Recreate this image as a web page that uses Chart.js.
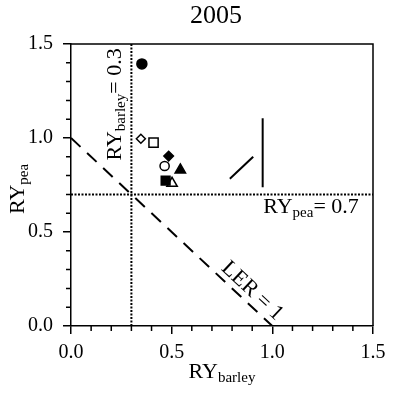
<!DOCTYPE html>
<html><head><meta charset="utf-8">
<script src="https://cdn.jsdelivr.net/npm/chart.js@4"></script>
<style>html,body{margin:0;padding:0;background:#fff}canvas{display:block}</style>
</head><body>
<canvas id="c" width="400" height="396"></canvas>
<script>
// ---- data ----
const chartTitle = '2005';
const treatments = ['T1','T2','T3','T4','T5','T6','T7','T8'];
const ryBarley = [0.352, 0.347, 0.410, 0.485, 0.465, 0.543, 0.502, 0.470];
const ryPea    = [1.394, 0.996, 0.975, 0.904, 0.851, 0.830, 0.759, 0.773];
const lsdDiagX = [0.789, 0.905];
const lsdDiagY = [0.783, 0.900];
const lsdVertX = [0.952, 0.952];
const lsdVertY = [0.738, 1.105];
const lerX = [0, 1];
const lerY = [1, 0];
const barleyThreshold = 0.3;
const peaThreshold = 0.7;
const axisMin = 0, axisMax = 1.5;
const tickValues = [0, 0.5, 1.0, 1.5];

// ---- styles ----
const SERIF = '"Liberation Serif", "Times New Roman", serif';
const markerStyle  = ['circle','rectRot','rect','rectRot','circle','triangle','triangle','rect'];
const markerFilled = [true, false, false, true, false, true, false, true];
const markerRadius = [5, 4.5, 6.5, 4.8, 4.6, 6, 6, 6.2];

const pts = (xs, ys) => xs.map((x, i) => ({x, y: ys[i]}));

function drawParts(ctx, x0, y0, angle, parts, align) {
  ctx.save();
  ctx.translate(x0, y0);
  ctx.rotate(angle);
  ctx.fillStyle = '#000';
  ctx.textBaseline = 'alphabetic';
  ctx.textAlign = 'left';
  let total = 0;
  const ws = parts.map(p => { ctx.font = p.size + 'px ' + SERIF; const w = ctx.measureText(p.t).width; total += w; return w; });
  let cx = align === 'center' ? -total / 2 : 0;
  parts.forEach((p, i) => {
    ctx.font = p.size + 'px ' + SERIF;
    ctx.fillText(p.t, cx, (p.dy || 0));
    cx += ws[i];
  });
  ctx.restore();
}

const decor = {
  id: 'decor',
  afterDraw(chart) {
    const {ctx, chartArea: a, scales: {x, y}} = chart;
    ctx.save();
    ctx.strokeStyle = '#000';
    ctx.lineWidth = 1.5;
    // top & right frame
    ctx.beginPath();
    ctx.moveTo(a.left, a.top); ctx.lineTo(a.right, a.top); ctx.lineTo(a.right, a.bottom);
    ctx.stroke();
    // minor ticks
    ctx.beginPath();
    for (let i = 1; i < 15; i++) {
      if (i % 5 === 0) continue;
      const v = i / 10;
      const px = x.getPixelForValue(v);
      ctx.moveTo(px, a.bottom); ctx.lineTo(px, a.bottom + 5);
      const py = y.getPixelForValue(v);
      ctx.moveTo(a.left - 5, py); ctx.lineTo(a.left, py);
    }
    ctx.stroke();
    ctx.restore();

    // title
    ctx.save();
    ctx.fillStyle = '#000';
    ctx.font = '26px ' + SERIF;
    ctx.textAlign = 'center';
    ctx.textBaseline = 'middle';
    ctx.fillText(chartTitle, (a.left + a.right) / 2 - 6, a.top - 28);
    ctx.restore();

    // axis titles
    drawParts(ctx, (a.left + a.right) / 2, a.bottom + 52, 0,
      [{t:'RY', size:22}, {t:'barley', size:15, dy:4}], 'center');
    drawParts(ctx, a.left - 47, (a.top + a.bottom) / 2 + 4, -Math.PI / 2,
      [{t:'RY', size:22}, {t:'pea', size:15, dy:4}], 'center');

    // threshold labels
    drawParts(ctx, x.getPixelForValue(barleyThreshold) - 10, y.getPixelForValue(0.88), -Math.PI / 2,
      [{t:'RY', size:22}, {t:'barley', size:15, dy:4}, {t:'= 0.3', size:22}], 'start');
    drawParts(ctx, x.getPixelForValue(0.955), y.getPixelForValue(peaThreshold) + 19, 0,
      [{t:'RY', size:22}, {t:'pea', size:15, dy:4}, {t:'= 0.7', size:22}], 'start');

    // LER label
    const x0 = x.getPixelForValue(lerX[0]), y0 = y.getPixelForValue(lerY[0]);
    const x1 = x.getPixelForValue(lerX[1]), y1 = y.getPixelForValue(lerY[1]);
    const ang = Math.atan2(y1 - y0, x1 - x0);
    const f = 0.86;
    const px = x0 + (x1 - x0) * f, py = y0 + (y1 - y0) * f;
    ctx.save();
    ctx.translate(px, py);
    ctx.rotate(ang);
    ctx.fillStyle = '#000';
    ctx.font = '22px ' + SERIF;
    ctx.textAlign = 'center';
    ctx.textBaseline = 'alphabetic';
    ctx.fillText('LER = 1', 0, -6);
    ctx.restore();
  }
};

const axisCommon = (extra) => Object.assign({
  type: 'linear',
  min: axisMin,
  max: axisMax,
  afterBuildTicks: s => { s.ticks = tickValues.map(v => ({value: v})); },
  grid: { drawOnChartArea: false, drawTicks: true, tickLength: 8, color: '#000', lineWidth: 1.5 },
  border: { display: true, color: '#000', width: 1.5 },
}, extra);

new Chart(document.getElementById('c'), {
  type: 'scatter',
  data: {
    datasets: [
      {
        label: 'treatments',
        data: pts(ryBarley, ryPea),
        pointStyle: markerStyle,
        pointRadius: markerRadius,
        pointBackgroundColor: markerFilled.map(f => f ? '#000' : '#fff'),
        pointBorderColor: '#000',
        pointBorderWidth: 1.5,
        showLine: false
      },
      { label: 'lsd1', data: pts(lsdDiagX, lsdDiagY), showLine: true, pointRadius: 0, borderColor: '#000', borderWidth: 2 },
      { label: 'lsd2', data: pts(lsdVertX, lsdVertY), showLine: true, pointRadius: 0, borderColor: '#000', borderWidth: 2 },
      { label: 'LER', data: pts(lerX, lerY), showLine: true, pointRadius: 0, borderColor: '#000', borderWidth: 2, borderDash: [13, 9] },
      { label: 'barley', data: pts([barleyThreshold, barleyThreshold], [axisMin, axisMax]), showLine: true, pointRadius: 0, borderColor: '#000', borderWidth: 2, borderDash: [2, 1.5] },
      { label: 'pea', data: pts([axisMin, axisMax], [peaThreshold, peaThreshold]), showLine: true, pointRadius: 0, borderColor: '#000', borderWidth: 2, borderDash: [2, 1.5] }
    ]
  },
  options: {
    responsive: false,
    devicePixelRatio: 1,
    animation: false,
    layout: { padding: { left: 20, right: 27, top: 44, bottom: 0 } },
    plugins: {
      legend: { display: false },
      tooltip: { enabled: false },
      title: { display: false }
    },
    scales: {
      x: axisCommon({
        position: 'bottom',
        ticks: { callback: v => v.toFixed(1), color: '#000', font: { family: SERIF, size: 20 }, padding: 7, maxRotation: 0, autoSkip: false },
        afterFit: s => { s.height = 70; }
      }),
      y: axisCommon({
        position: 'left',
        ticks: { callback: v => v.toFixed(1), color: '#000', font: { family: SERIF, size: 20 }, padding: 10, autoSkip: false },
        afterFit: s => { s.width = 51; }
      })
    }
  },
  plugins: [decor]
});
</script>
</body></html>
